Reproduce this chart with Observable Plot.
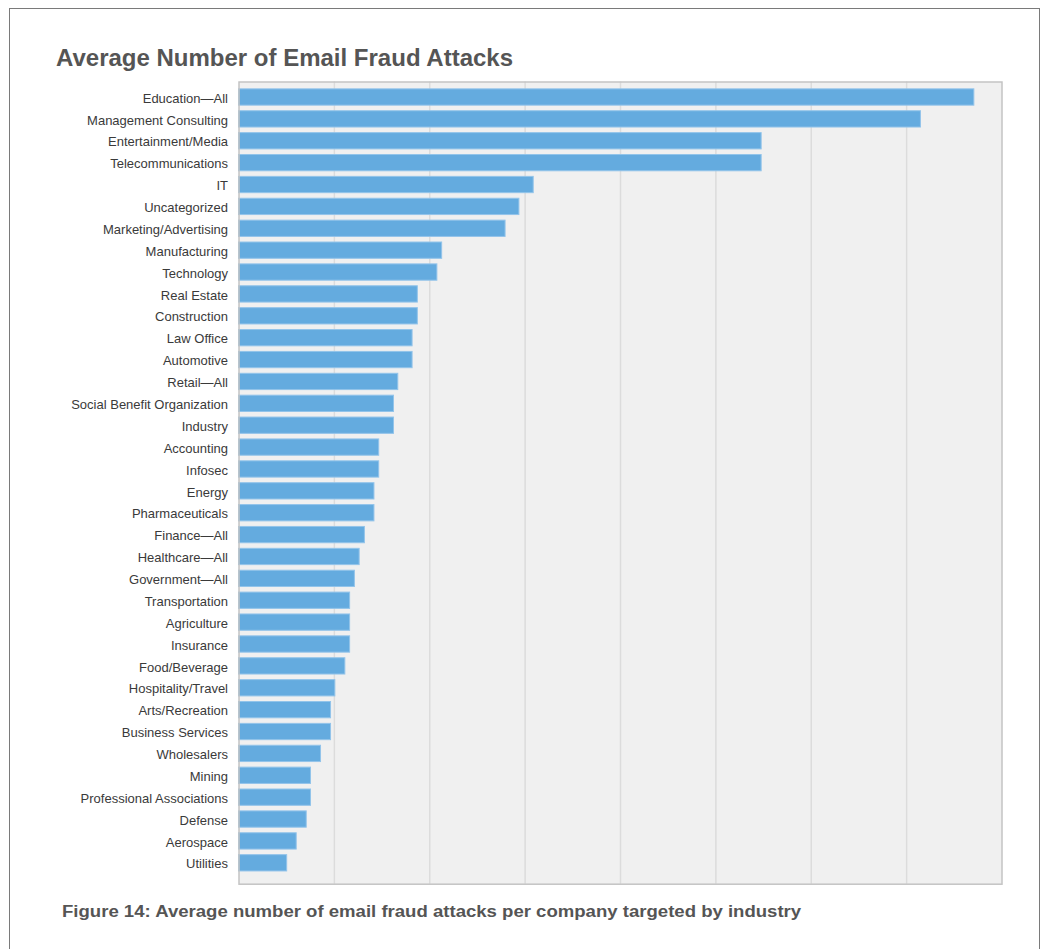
<!DOCTYPE html>
<html>
<head>
<meta charset="utf-8">
<script src="https://cdn.jsdelivr.net/npm/d3@7"></script>
<script src="https://cdn.jsdelivr.net/npm/@observablehq/plot@0.6"></script>
<style>
  html, body { margin: 0; padding: 0; background: #fff; }
  body { width: 1047px; height: 949px; position: relative; overflow: hidden; font-family: "Liberation Sans", Arial, sans-serif; }
  #border { position: absolute; left: 9px; top: 8px; width: 1031px; height: 1000px; border: 1.5px solid #7a7a7a; box-sizing: border-box; }
  #title { position: absolute; left: 56px; top: 44px; font-size: 24px; font-weight: bold; color: #555; white-space: nowrap; }
  #chart { position: absolute; left: 0; top: 75px; }
  #caption { position: absolute; left: 62px; top: 903px; font-size: 16px; font-weight: bold; color: #555; white-space: nowrap; transform-origin: 0 0; transform: scaleX(1.16); }
</style>
</head>
<body>
<div id="border"></div>
<div id="title">Average Number of Email Fraud Attacks</div>
<div id="chart"></div>
<div id="caption">Figure 14: Average number of email fraud attacks per company targeted by industry</div>
<script>
const industries = [
  "Education—All", "Management Consulting", "Entertainment/Media", "Telecommunications", "IT",
  "Uncategorized", "Marketing/Advertising", "Manufacturing", "Technology", "Real Estate",
  "Construction", "Law Office", "Automotive", "Retail—All", "Social Benefit Organization",
  "Industry", "Accounting", "Infosec", "Energy", "Pharmaceuticals",
  "Finance—All", "Healthcare—All", "Government—All", "Transportation", "Agriculture",
  "Insurance", "Food/Beverage", "Hospitality/Travel", "Arts/Recreation", "Business Services",
  "Wholesalers", "Mining", "Professional Associations", "Defense", "Aerospace", "Utilities"
];
const attacks = [
  154.2, 143.0, 109.6, 109.6, 61.8,
  58.8, 55.9, 42.6, 41.6, 37.5,
  37.5, 36.4, 36.4, 33.4, 32.5,
  32.5, 29.4, 29.4, 28.4, 28.4,
  26.4, 25.3, 24.3, 23.3, 23.3,
  23.3, 22.3, 20.2, 19.3, 19.3,
  17.2, 15.1, 15.1, 14.2, 12.1, 10.1
];
const gridTicks = [20, 40, 60, 80, 100, 120, 140];

const data = industries.map((name, i) => ({name, value: attacks[i]}));

const W = 1047, H = 815;
const chart = Plot.plot({
  width: W,
  height: H,
  marginLeft: 238.5,
  marginRight: 45.5,
  marginTop: 6.5,
  marginBottom: 6.3,
  style: {fontFamily: "'Liberation Sans', Arial, sans-serif", fontSize: "13px", color: "#3a3a3a", background: "transparent"},
  x: {domain: [0, 160], axis: null},
  y: {domain: industries, range: [13.85, 795.95], paddingInner: 0.255, paddingOuter: 0, label: null},
  marks: [
    Plot.frame({fill: "#f0f0f0", stroke: "none"}),
    Plot.ruleX(gridTicks, {stroke: "#dcdcdc", strokeWidth: 1.5}),
    Plot.barX(data, {x: "value", y: "name", fill: "#64abdf", stroke: "#93c4ea", strokeWidth: 1}),
    Plot.frame({stroke: "#c4c4c4", strokeWidth: 1.5}),
    Plot.axisY({tickSize: 0, tickPadding: 11, label: null, fontSize: 13, fill: "#3a3a3a", dy: 1})
  ]
});
document.getElementById("chart").appendChild(chart);
</script>
</body>
</html>
